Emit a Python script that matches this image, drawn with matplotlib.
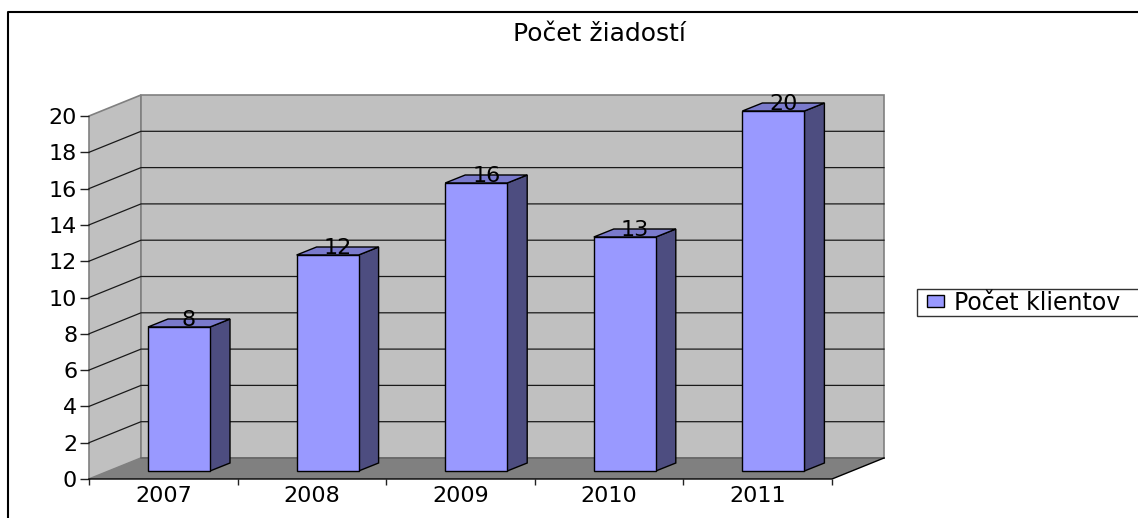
import matplotlib
matplotlib.use("Agg")
import matplotlib.pyplot as plt
from matplotlib.lines import Line2D
from matplotlib.patches import Patch, Polygon, Rectangle

years = ["2007", "2008", "2009", "2010", "2011"]
clients = [8, 12, 16, 13, 20]
y_ticks = [0, 2, 4, 6, 8, 10, 12, 14, 16, 18, 20]
title = "Počet žiadostí"
series_name = "Počet klientov"

W, H = 1138, 518
FONT = "DejaVu Sans"
FS = 16

# plot area of the front plane, in pixels
LEFT, RIGHT, TOP, BOTTOM = 89, 832, 116, 479

fig = plt.figure(figsize=(W / 100, H / 100), dpi=100)
ax = fig.add_axes([LEFT / W, 1 - BOTTOM / H, (RIGHT - LEFT) / W, (BOTTOM - TOP) / H])
ax.set_xlim(0, len(years))
ax.set_ylim(0, 20)
ax.patch.set_visible(False)
for s in ax.spines.values():
    s.set_visible(False)

# pixel sizes to data units
px_x = len(years) / (RIGHT - LEFT)
px_y = 20 / (BOTTOM - TOP)
dx, dy = 52 * px_x, 21 * px_y          # depth of the walls
bar_dx, bar_dy = 20 * px_x, 8 * px_y   # depth of a bar
bar_w = 62 * px_x
xmax = len(years)


def poly(pts, fc, ec="none", lw=0.0, z=1):
    ax.add_patch(Polygon(pts, closed=True, fc=fc, ec=ec, lw=lw, zorder=z, clip_on=False))


# walls and floor
poly([(0, 0), (dx, dy), (dx, 20 + dy), (0, 20)], "#C0C0C0", "#808080", 1.2)
poly([(dx, dy), (xmax + dx, dy), (xmax + dx, 20 + dy), (dx, 20 + dy)], "#C0C0C0", "#808080", 1.2)
poly([(0, 0), (xmax, 0), (xmax + dx, dy), (dx, dy)], "#808080", z=1.5)

# gridlines
for v in y_ticks[1:-1]:
    ax.plot([0, dx, xmax + dx], [v, v + dy, v + dy], color="#1a1a1a", lw=0.9, zorder=2, clip_on=False)
ax.plot([dx, xmax + dx], [dy, dy], color="#666666", lw=1.2, zorder=2, clip_on=False)
ax.plot([0, xmax, xmax + dx], [0, 0, dy], color="black", lw=1.0, zorder=2, clip_on=False)

# bars
for i, val in enumerate(clients):
    x0 = i + 59 * px_x
    x1 = x0 + bar_w
    y0 = bar_dy
    y1 = y0 + val * 18 / 18.15
    poly([(x1, y0), (x1 + bar_dx, y0 + bar_dy), (x1 + bar_dx, y1 + bar_dy), (x1, y1)],
         "#4D4D80", "black", 1.0, 3)
    poly([(x0, y1), (x1, y1), (x1 + bar_dx, y1 + bar_dy), (x0 + bar_dx, y1 + bar_dy)],
         "#7A7ACC", "black", 1.0, 3)
    poly([(x0, y0), (x1, y0), (x1, y1), (x0, y1)], "#9999FF", "black", 1.0, 3)
    ax.text((x0 + x1) / 2 + 10 * px_x, y1 + 7 * px_y, str(val), ha="center", va="center",
            fontsize=FS, family=FONT, color="black", zorder=4)

# axes ticks and labels
ax.set_yticks(y_ticks)
ax.set_xticks(range(len(years) + 1))
ax.set_xticklabels([])
ax.tick_params(axis="y", length=6.5, width=1.0, color="#222222", pad=2, labelsize=FS)
ax.tick_params(axis="x", length=4, width=1.0, color="#222222")
for lab in ax.get_yticklabels():
    lab.set_family(FONT)
for i, year in enumerate(years):
    ax.text(i + 0.5, -17 * px_y, year, ha="center", va="center", fontsize=FS, family=FONT)

# title and legend, the legend box runs past the image edge
fig.text(599 / W, 1 - 34 / H, title, ha="center", va="center", fontsize=18, family=FONT)
fig.add_artist(Rectangle((917 / W, 1 - 316 / H), 240 / W, 27 / H, transform=fig.transFigure,
                         fc="white", ec="#333333", lw=1.0))
fig.legend(handles=[Patch(fc="#9999FF", ec="black", lw=1.0, label=series_name)],
           loc="center left", bbox_to_anchor=(922 / W, 1 - 302.5 / H), frameon=False,
           prop={"family": FONT, "size": 17}, borderpad=0.2, borderaxespad=0,
           handlelength=0.75, handleheight=0.45, handletextpad=0.4)

# chart frame, cut by the image edge
fig.add_artist(Line2D([7.5 / W, 7.5 / W, 1], [0, 1 - 12 / H, 1 - 12 / H], color="black", lw=1.5))

fig.savefig("out.png", dpi=100, facecolor="white")
